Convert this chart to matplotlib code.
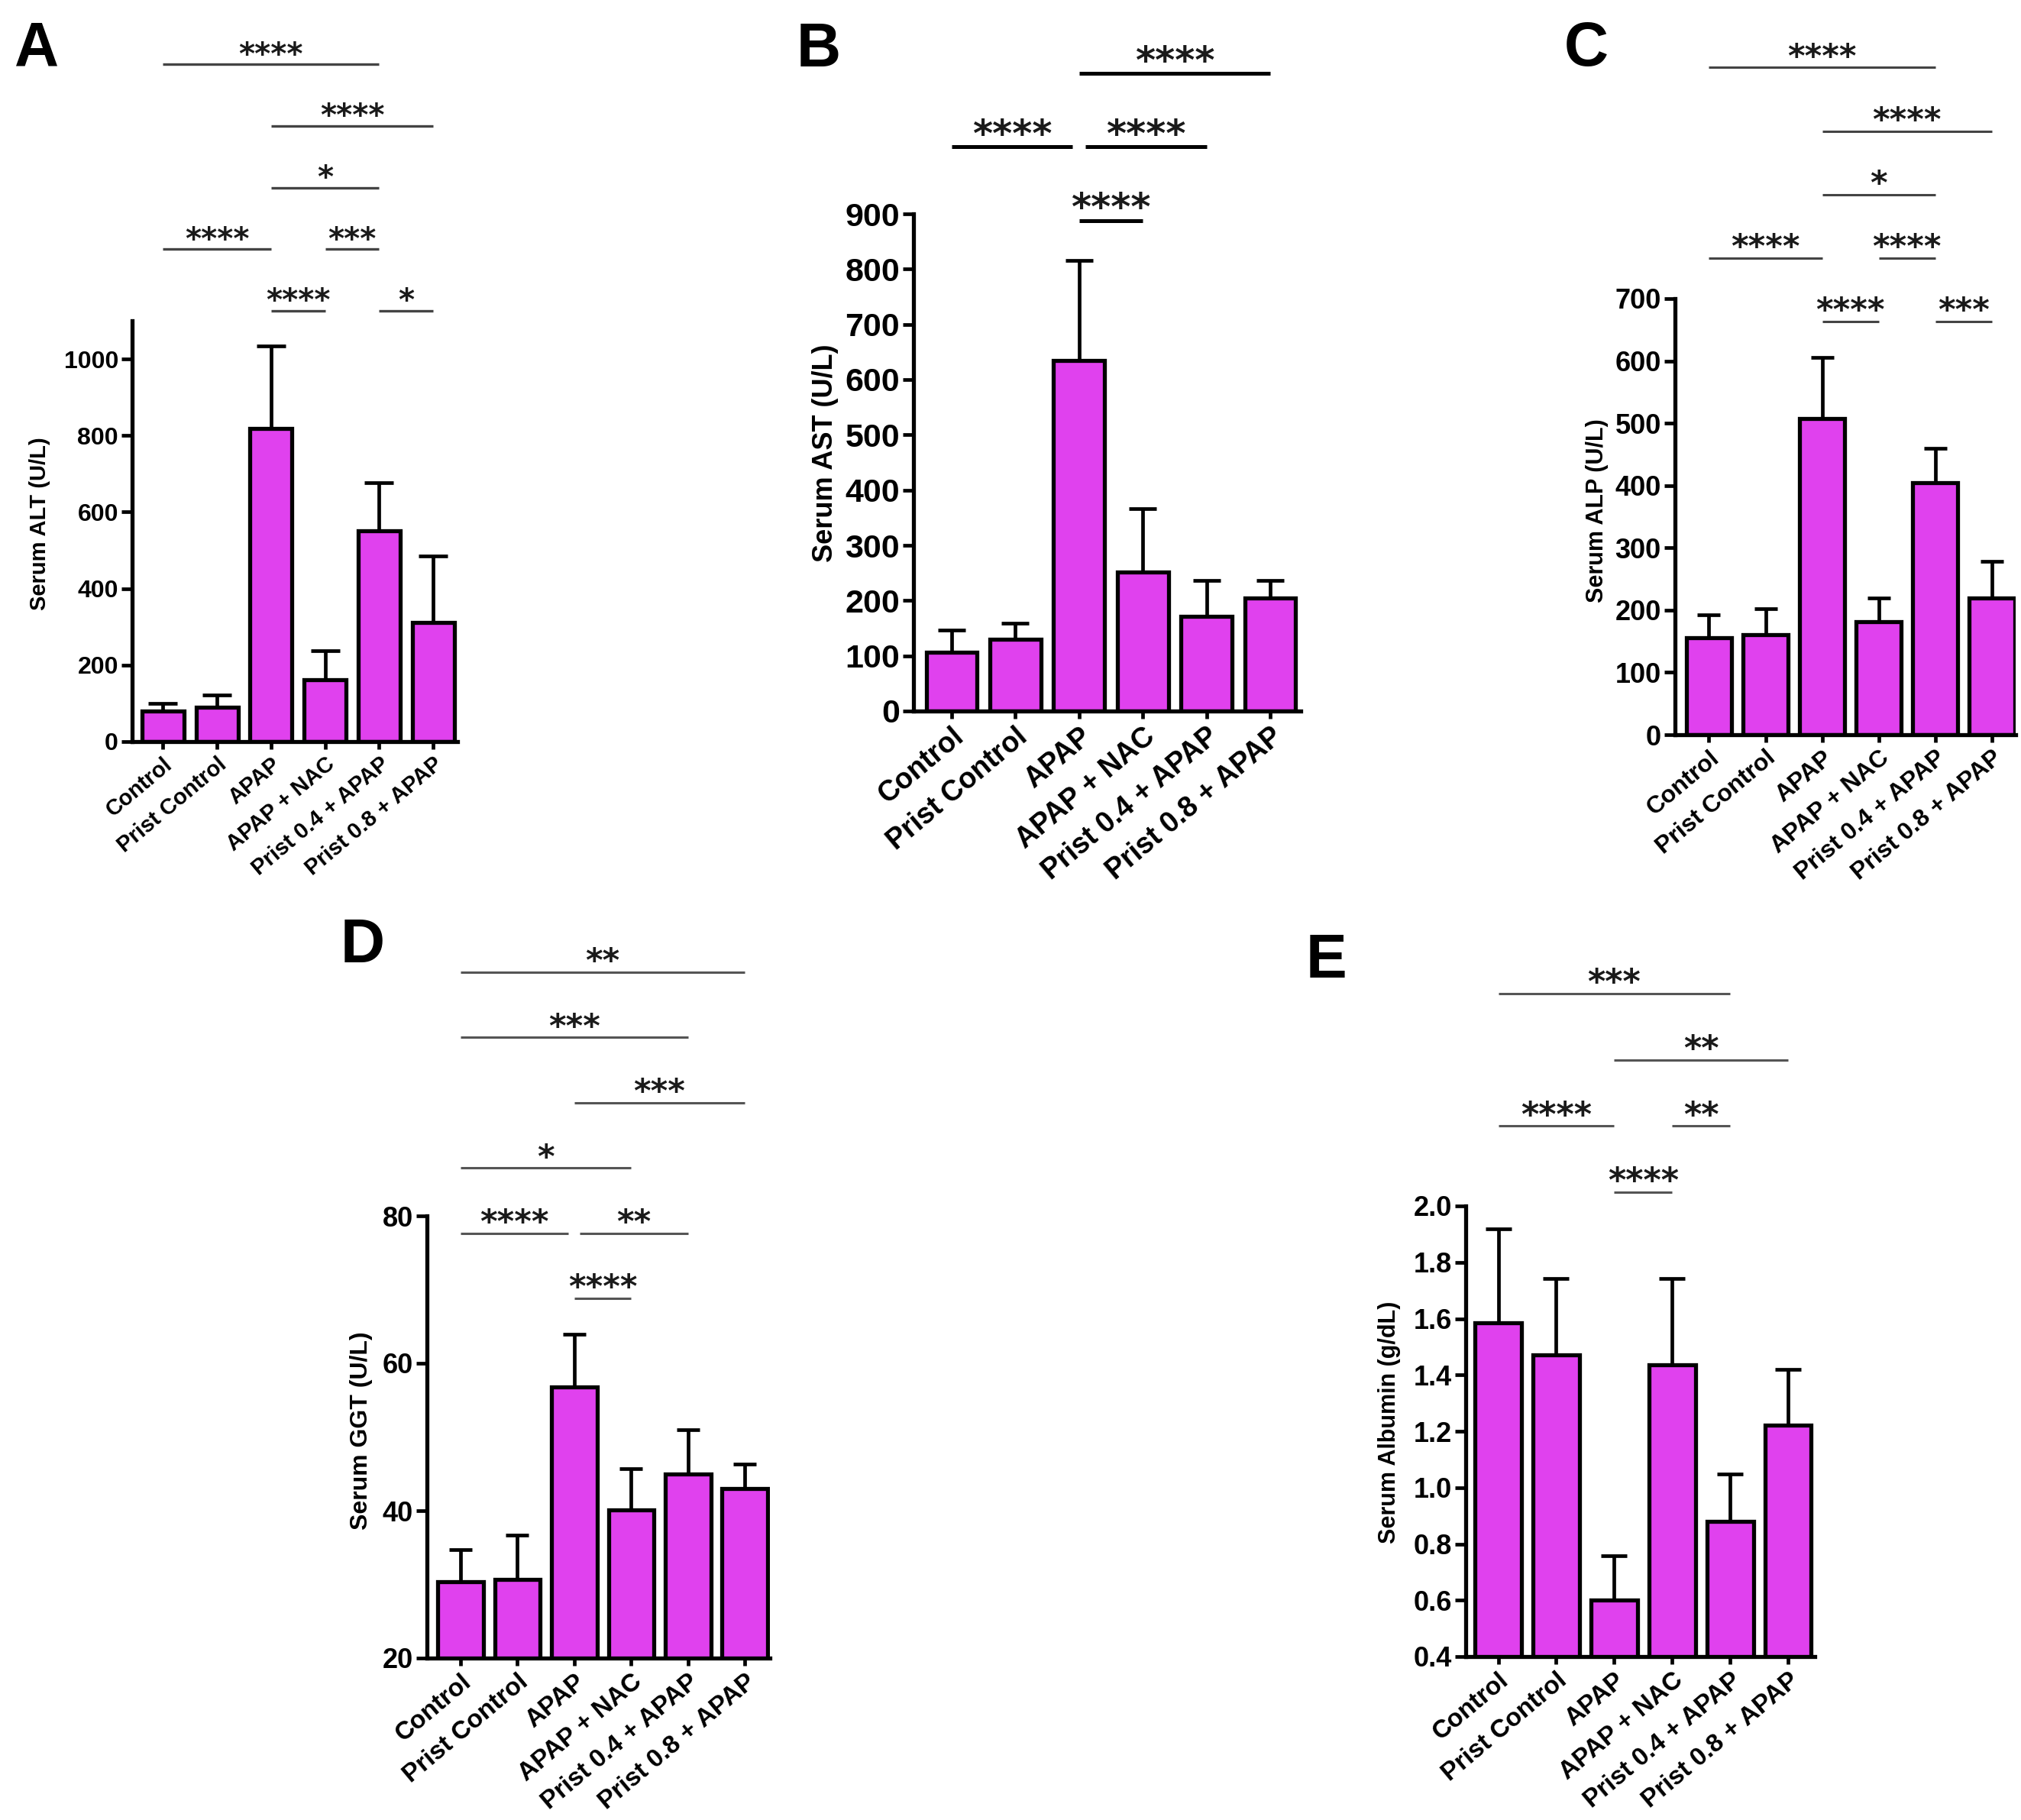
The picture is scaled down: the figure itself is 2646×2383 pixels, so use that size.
import numpy as np
import matplotlib
matplotlib.use('Agg')
import matplotlib.pyplot as plt

plt.rcParams['font.family'] = ['Liberation Sans', 'DejaVu Sans']
plt.rcParams['font.weight'] = 'bold'

W, H = 2646, 2383

groups = ['Control', 'Prist Control', 'APAP', 'APAP + NAC',
          'Prist 0.4 + APAP', 'Prist 0.8 + APAP']

# mean and upper error (SEM)
alt_mean = [79, 90, 819, 161, 551, 311]
alt_err = [20, 32, 216, 77, 125, 174]
ast_mean = [106, 130, 635, 251, 172, 205]
ast_err = [41, 29, 180, 116, 65, 32]
alp_mean = [156, 160, 507, 181, 404, 220]
alp_err = [36, 42, 99, 39, 56, 58]
ggt_mean = [30.4, 30.7, 56.8, 40.1, 45.0, 43.0]
ggt_err = [4.3, 6.0, 7.1, 5.6, 6.0, 3.3]
alb_mean = [1.585, 1.472, 0.601, 1.437, 0.880, 1.222]
alb_err = [0.333, 0.271, 0.157, 0.306, 0.169, 0.197]

# (group i, group j, stars, tier)
alt_sig = [(2, 3, '****', 0), (4, 5, '*', 0), (0, 2, '****', 1), (3, 4, '***', 1),
           (2, 4, '*', 2), (2, 5, '****', 3), (0, 4, '****', 4)]
ast_sig = [(2, 3, '****', 0), (0, 2, '****', 1), (2, 4, '****', 1), (2, 5, '****', 2)]
alp_sig = [(2, 3, '****', 0), (4, 5, '***', 0), (0, 2, '****', 1), (3, 4, '****', 1),
           (2, 4, '*', 2), (2, 5, '****', 3), (0, 4, '****', 4)]
ggt_sig = [(2, 3, '****', 0), (0, 2, '****', 1), (2, 4, '**', 1), (0, 3, '*', 2),
           (2, 5, '***', 3), (0, 4, '***', 4), (0, 5, '**', 5)]
alb_sig = [(2, 3, '****', 0), (0, 2, '****', 1), (3, 4, '**', 1), (2, 5, '**', 2),
           (0, 4, '***', 3)]

BAR_COLOR = '#E041EE'


def px_rect(x0, x1, y_bot, y_top):
    return [x0 / W, 1 - y_bot / H, (x1 - x0) / W, (y_bot - y_top) / H]


def draw_panel(fig, rect, xlim, ylim, yticks, yfmt, mean, err, sig, sig_base, sig_step,
               ylabel, ylabel_pos, letter, letter_pos, tick_fs, xt_fs, yl_fs, star_fs,
               sig_color, sig_lw, bar_w=0.8, capsize=12, gap=0.1, lw=3.8):
    ax = fig.add_axes(rect)
    x = np.arange(len(groups))
    ax.bar(x, mean, width=bar_w, color=BAR_COLOR, edgecolor='black', linewidth=lw, zorder=2)
    ax.errorbar(x, mean, yerr=[np.zeros(len(err)), err], fmt='none', ecolor='black',
                elinewidth=lw - 0.4, capsize=capsize, capthick=lw - 0.4, zorder=1)
    ax.set_xlim(*xlim)
    ax.set_ylim(*ylim)
    ax.set_yticks(yticks)
    ax.set_yticklabels([yfmt.format(v) for v in yticks], fontsize=tick_fs, fontweight='bold')
    ax.set_xticks(x)
    ax.set_xticklabels(groups, rotation=40, ha='right', va='top', rotation_mode='anchor',
                       fontsize=xt_fs, fontweight='bold')
    for s in ['top', 'right']:
        ax.spines[s].set_visible(False)
    for s in ['left', 'bottom']:
        ax.spines[s].set_linewidth(lw)
    ax.tick_params(axis='y', length=10, width=lw - 0.4, pad=3)
    ax.tick_params(axis='x', length=7, width=lw - 0.4, pad=4)

    for i, j, stars, tier in sig:
        y = sig_base + sig_step * tier
        x0, x1 = float(i), float(j)
        for a, b, _, t in sig:
            if t == tier and (a, b) != (i, j):
                if a == j:
                    x1 -= gap
                if b == i:
                    x0 += gap
        ax.plot([x0, x1], [y, y], color=sig_color, lw=sig_lw, clip_on=False,
                solid_capstyle='butt', zorder=3)
        ax.annotate(stars, xy=((x0 + x1) / 2, y), xytext=(0, 0.5), textcoords='offset points',
                    ha='center', va='baseline', fontsize=star_fs, family='DejaVu Sans',
                    fontweight='bold', color='#1a1a1a', annotation_clip=False)

    fig.text(ylabel_pos[0] / W, 1 - ylabel_pos[1] / H, ylabel, rotation=90,
             ha='center', va='center', fontsize=yl_fs, fontweight='bold')
    fig.text(letter_pos[0] / W, 1 - letter_pos[1] / H, letter, ha='center', va='baseline',
             fontsize=58, fontweight='bold')
    return ax


fig = plt.figure(figsize=(W / 100, H / 100), dpi=100)

draw_panel(fig, px_rect(173, 599, 971, 420), (-0.57, 5.45), (0, 1100),
           [0, 200, 400, 600, 800, 1000], '{:d}', alt_mean, alt_err, alt_sig, 1126, 161,
           'Serum ALT (U/L)', (52, 686), 'A', (48, 85), 23, 21, 21, 29,
           '#444444', 2.4, bar_w=0.78, capsize=14)

draw_panel(fig, px_rect(1196, 1703, 931, 280), (-0.60, 5.48), (0, 900),
           list(range(0, 1000, 100)), '{:d}', ast_mean, ast_err, ast_sig, 888, 133,
           'Serum AST (U/L)', (1080, 593), 'B', (1072, 87), 31, 27, 26, 36,
           'black', 3.6, capsize=13)

draw_panel(fig, px_rect(2193, 2639, 962, 391), (-0.60, 5.42), (0, 700),
           list(range(0, 800, 100)), '{:d}', alp_mean, alp_err, alp_sig, 663, 102,
           'Serum ALP (U/L)', (2091, 669), 'C', (2077, 86), 26, 23, 22, 31,
           '#444444', 2.2, capsize=11)

draw_panel(fig, px_rect(559, 1008, 2171, 1592), (-0.59, 5.44), (20, 80),
           [20, 40, 60, 80], '{:d}', ggt_mean, ggt_err, ggt_sig, 68.8, 8.85,
           'Serum GGT (U/L)', (473, 1873), 'D', (475, 1260), 26, 24, 23, 31,
           '#555555', 2.2, capsize=11)

draw_panel(fig, px_rect(1919, 2376, 2169, 1579), (-0.56, 5.46), (0.4, 2.0),
           [0.4, 0.6, 0.8, 1.0, 1.2, 1.4, 1.6, 1.8, 2.0], '{:.1f}', alb_mean, alb_err,
           alb_sig, 2.049, 0.235,
           'Serum Albumin (g/dL)', (1819, 1862), 'E', (1737, 1280), 26, 24, 22, 32,
           '#555555', 2.2, capsize=12)

fig.savefig('out.png', dpi=100)
